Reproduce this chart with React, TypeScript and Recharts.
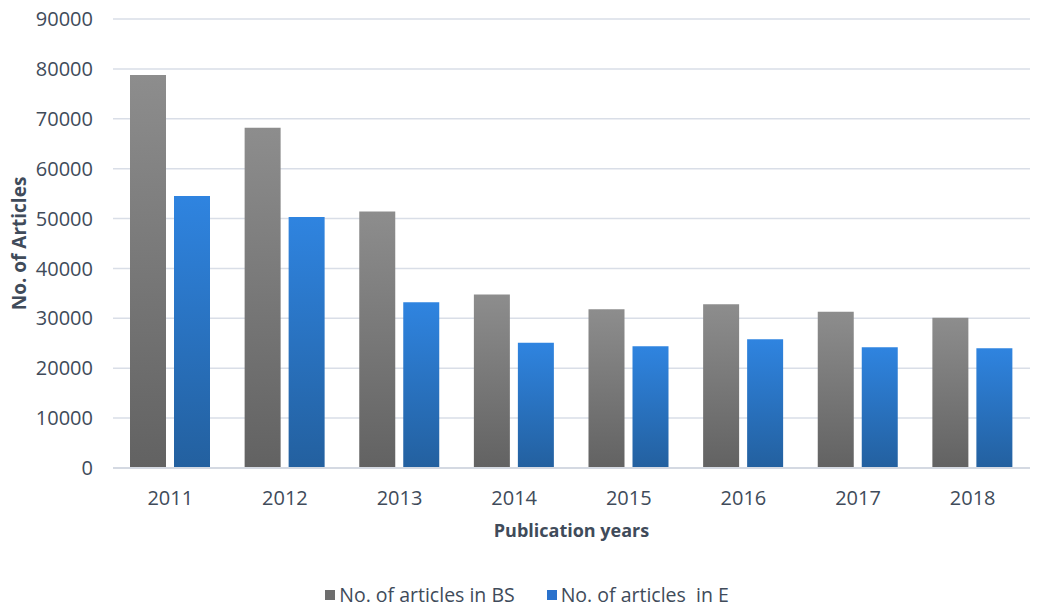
import React from 'react';
import { BarChart, Bar, XAxis, YAxis, CartesianGrid, Legend } from 'recharts';

const years = ['2011', '2012', '2013', '2014', '2015', '2016', '2017', '2018'];
const articlesBS = [78800, 68200, 51400, 34800, 31800, 32800, 31300, 30100];
const articlesE = [54500, 50300, 33200, 25100, 24400, 25800, 24200, 24000];
const yTicks = [0, 10000, 20000, 30000, 40000, 50000, 60000, 70000, 80000, 90000];

const data = years.map((year, i) => ({
  year,
  bs: articlesBS[i],
  e: articlesE[i]
}));

const TEXT = '#404b5a';
const FONT = '"Open Sans", sans-serif';

const legendItems = [
  { label: 'No. of articles in BS', color: '#6e6e6e' },
  { label: 'No. of articles\u00a0 in E', color: '#2a72cc' }
];

function renderLegend() {
  return (
    <div
      style={{
        height: 58,
        paddingTop: 35,
        paddingLeft: 24,
        boxSizing: 'border-box',
        display: 'flex',
        justifyContent: 'center',
        gap: 32,
        fontFamily: FONT,
        fontSize: 19.5,
        color: TEXT,
        lineHeight: '18px'
      }}
    >
      {legendItems.map((item) => (
        <div key={item.label} style={{ display: 'flex', alignItems: 'center' }}>
          <span
            style={{
              display: 'inline-block',
              width: 10,
              height: 10,
              background: item.color,
              marginRight: 4
            }}
          />
          <span>{item.label}</span>
        </div>
      ))}
    </div>
  );
}

export default function App() {
  return (
    <div style={{ width: 1043, height: 606, background: '#fff' }}>
      <style>{'body{margin:0}'}</style>
      <BarChart
        width={1043}
        height={606}
        data={data}
        margin={{ top: 19, right: 13, left: 0, bottom: 0 }}
        barCategoryGap={17}
        barGap={8}
      >
        <defs>
          <linearGradient id="gradBS" x1="0" y1="0" x2="0" y2="1">
            <stop offset="0%" stopColor="#8d8d8d" />
            <stop offset="100%" stopColor="#626262" />
          </linearGradient>
          <linearGradient id="gradE" x1="0" y1="0" x2="0" y2="1">
            <stop offset="0%" stopColor="#2f84e0" />
            <stop offset="100%" stopColor="#23609f" />
          </linearGradient>
        </defs>
        <CartesianGrid vertical={false} stroke="#d9dee7" strokeWidth={1.5} />
        <XAxis
          dataKey="year"
          height={80}
          tickLine={false}
          axisLine={{ stroke: '#d4d9e2', strokeWidth: 2 }}
          tick={{ fill: TEXT, fontSize: 20, fontFamily: FONT }}
          tickMargin={17}
          label={{
            value: 'Publication years',
            position: 'insideBottom',
            offset: 11,
            fill: TEXT,
            fontSize: 18,
            fontWeight: 700,
            fontFamily: FONT
          }}
        />
        <YAxis
          width={113}
          domain={[0, 90000]}
          ticks={yTicks}
          tickLine={false}
          axisLine={false}
          tickSize={0}
          tickMargin={20}
          tick={{ fill: TEXT, fontSize: 20, fontFamily: FONT }}
          label={{
            value: 'No. of Articles',
            angle: -90,
            position: 'insideLeft',
            offset: 19,
            style: { textAnchor: 'middle' },
            fill: TEXT,
            fontSize: 19,
            fontWeight: 700,
            fontFamily: FONT
          }}
        />
        <Legend verticalAlign="bottom" content={renderLegend} />
        <Bar dataKey="bs" name="No. of articles in BS" fill="url(#gradBS)" isAnimationActive={false} />
        <Bar dataKey="e" name="No. of articles  in E" fill="url(#gradE)" isAnimationActive={false} />
      </BarChart>
    </div>
  );
}
